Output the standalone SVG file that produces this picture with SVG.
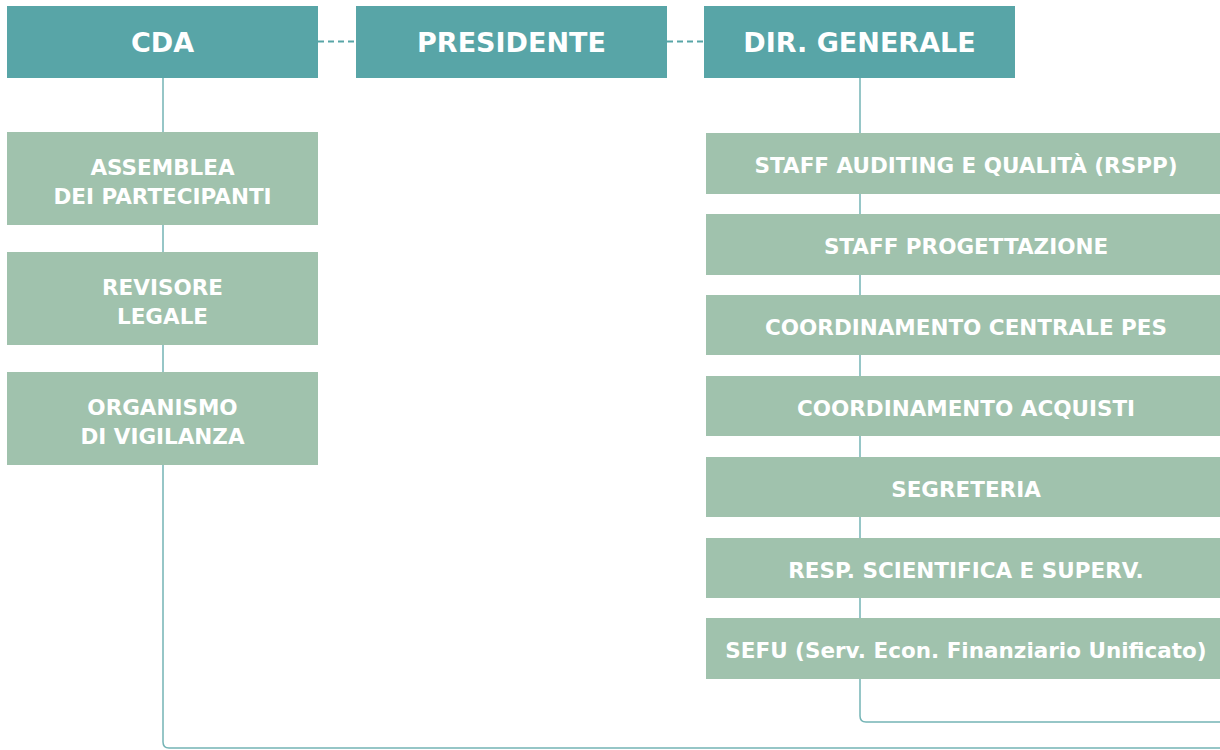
<svg xmlns="http://www.w3.org/2000/svg" width="1220" height="750" viewBox="0 0 1220 750">
<style>
.top{fill:#58a5a7}
.box{fill:#a0c2ad}
.t{font-family:"DejaVu Sans","Liberation Sans",sans-serif;font-weight:700;fill:#ffffff;text-anchor:middle}
.tt{font-size:27px}
.bt{font-size:21.5px}
.ln{fill:none;stroke:#74b4b5;stroke-width:1.5}
.dash{fill:none;stroke:#58a5a7;stroke-width:2.2;stroke-dasharray:6 4}
</style>
<rect width="1220" height="750" fill="#ffffff"/>
<g id="connectors">
<path class="dash" d="M318 41.5 H356"/>
<path class="dash" d="M667 41.5 H704"/>
<path class="ln" d="M163 78 V742 Q163 748 169 748 H1220"/>
<path class="ln" d="M860 78 V716 Q860 722 866 722 H1220"/>
</g>
<g id="cda"><rect class="top" x="7" y="6" width="311" height="72"/><text class="t tt" x="162.5" y="52">CDA</text></g>
<g id="presidente"><rect class="top" x="356" y="6" width="311" height="72"/><text class="t tt" x="511.5" y="52">PRESIDENTE</text></g>
<g id="dirgen"><rect class="top" x="704" y="6" width="311" height="72"/><text class="t tt" x="859.5" y="52">DIR. GENERALE</text></g>
<g id="assemblea"><rect class="box" x="7" y="132" width="311" height="93"/><text class="t bt" x="162.5" y="175">ASSEMBLEA</text><text class="t bt" x="162.5" y="203.5">DEI PARTECIPANTI</text></g>
<g id="revisore"><rect class="box" x="7" y="252" width="311" height="93"/><text class="t bt" x="162.5" y="295">REVISORE</text><text class="t bt" x="162.5" y="323.5">LEGALE</text></g>
<g id="organismo"><rect class="box" x="7" y="372" width="311" height="93"/><text class="t bt" x="162.5" y="415">ORGANISMO</text><text class="t bt" x="162.5" y="443.5">DI VIGILANZA</text></g>
<g id="staff-auditing"><rect class="box" x="706" y="133" width="514" height="61"/><text class="t bt" x="966" y="173">STAFF AUDITING E QUALITÀ (RSPP)</text></g>
<g id="staff-progettazione"><rect class="box" x="706" y="214" width="514" height="61"/><text class="t bt" x="966" y="254">STAFF PROGETTAZIONE</text></g>
<g id="coord-pes"><rect class="box" x="706" y="295" width="514" height="60"/><text class="t bt" x="966" y="334.5">COORDINAMENTO CENTRALE PES</text></g>
<g id="coord-acquisti"><rect class="box" x="706" y="376" width="514" height="60"/><text class="t bt" x="966" y="415.5">COORDINAMENTO ACQUISTI</text></g>
<g id="segreteria"><rect class="box" x="706" y="457" width="514" height="60"/><text class="t bt" x="966" y="496.5">SEGRETERIA</text></g>
<g id="resp-scientifica"><rect class="box" x="706" y="538" width="514" height="60"/><text class="t bt" x="966" y="577.5">RESP. SCIENTIFICA E SUPERV.</text></g>
<g id="sefu"><rect class="box" x="706" y="618" width="514" height="61"/><text class="t bt" x="966" y="658">SEFU (Serv. Econ. Finanziario Unificato)</text></g>
</svg>
